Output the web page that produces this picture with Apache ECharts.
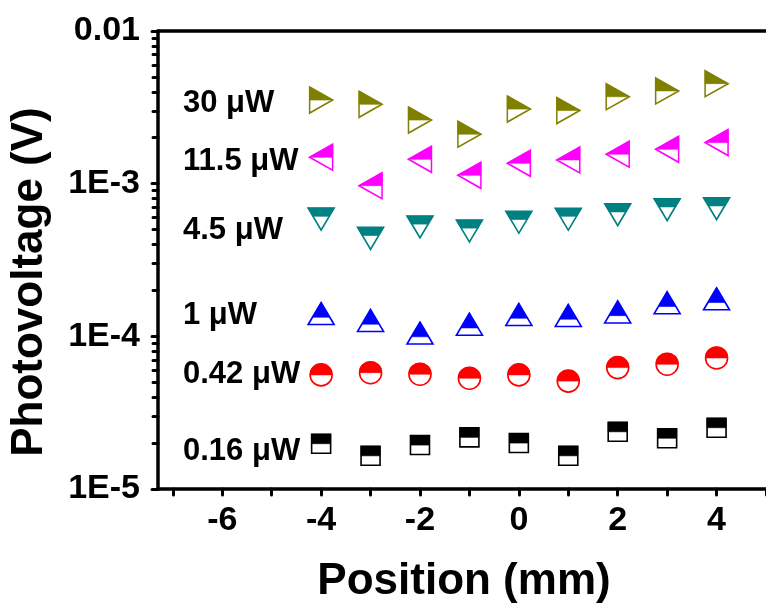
<!DOCTYPE html>
<html>
<head>
<meta charset="utf-8">
<script src="https://cdn.jsdelivr.net/npm/echarts@6/dist/echarts.min.js"></script>
<style>html,body{margin:0;padding:0;background:#fff}#c{width:766px;height:610px}</style>
</head>
<body>
<div id="c"></div>
<script>
// ---- data ----
const positions = [-4, -3, -2, -1, 0, 1, 2, 3, 4];
const p30   = [3.53e-3, 3.31e-3, 2.61e-3, 2.11e-3, 3.08e-3, 3.01e-3, 3.71e-3, 4.05e-3, 4.52e-3];
const p11_5 = [1.49e-3, 9.7e-4, 1.445e-3, 1.135e-3, 1.36e-3, 1.43e-3, 1.56e-3, 1.68e-3, 1.86e-3];
const p4_5  = [5.87e-4, 4.39e-4, 5.21e-4, 4.90e-4, 5.59e-4, 5.85e-4, 6.27e-4, 6.76e-4, 6.86e-4];
const p1    = [1.41e-4, 1.27e-4, 1.05e-4, 1.20e-4, 1.39e-4, 1.37e-4, 1.445e-4, 1.66e-4, 1.76e-4];
const p0_42 = [5.59e-5, 5.78e-5, 5.65e-5, 5.32e-5, 5.59e-5, 5.09e-5, 6.24e-5, 6.57e-5, 7.22e-5];
const p0_16 = [1.98e-5, 1.65e-5, 1.94e-5, 2.18e-5, 2.00e-5, 1.65e-5, 2.37e-5, 2.15e-5, 2.52e-5];
const seriesNames = ['30 \u03bcW', '11.5 \u03bcW', '4.5 \u03bcW', '1 \u03bcW', '0.42 \u03bcW', '0.16 \u03bcW'];
const xMajorTicks = [-6, -4, -2, 0, 2, 4];
const xAllTicks = [-7, -6, -5, -4, -3, -2, -1, 0, 1, 2, 3, 4, 5];
const yTickValues = [1e-5, 1e-4, 1e-3, 1e-2];
const yTickLabels = ['1E-5', '1E-4', '1E-3', '0.01'];

// ---- styles ----
const FONT = '"Liberation Sans", Arial, sans-serif';
const shapes = {
  right:  {full: {s: 'path://M0,0L24,13L0,26Z', z: [23, 26]}, half: {s: 'path://M0,0L24,13L0,13Z', z: [23, 13], o: [0, -6.5]}},
  left:   {full: {s: 'path://M24,0L0,13L24,26Z', z: [23, 26]}, half: {s: 'path://M24,0L0,13L24,13Z', z: [23, 13], o: [0, -6.5]}},
  down:   {full: {s: 'path://M0,0L26,0L13,22Z', z: [26, 22]}, half: {s: 'path://M0,0L26,0L21,8.4L5,8.4Z', z: [26, 8.4], o: [0, -6.8]}},
  up:     {full: {s: 'path://M13,0L26,22L0,22Z', z: [26, 22]}, half: {s: 'path://M8.7,0L17.4,14.7L0,14.7Z', z: [17.4, 14.7], o: [0, -3.65]}},
  circle: {full: {s: 'circle', z: [22, 22]}, half: {s: 'path://M0,10A10,10,0,0,1,20,10Z', z: [22, 11], o: [0, -5.5]}},
  square: {full: {s: 'rect', z: [19, 19]}, half: {s: 'rect', z: [19, 9.5], o: [0, -4.75]}}
};
const styleList = [
  {color: '#808000', shape: 'right'},
  {color: '#FF00FF', shape: 'left'},
  {color: '#008080', shape: 'down'},
  {color: '#0000FF', shape: 'up'},
  {color: '#FF0000', shape: 'circle'},
  {color: '#000000', shape: 'square'}
];
const valueSets = [p30, p11_5, p4_5, p1, p0_42, p0_16];
const labelY = [106, 164, 233, 318, 377, 454];

const series = [];
valueSets.forEach((vals, i) => {
  const st = styleList[i];
  const sh = shapes[st.shape];
  const data = positions.map((x, k) => [x, vals[k]]);
  series.push({
    type: 'scatter', name: seriesNames[i], data: data, silent: true, z: 3,
    symbol: sh.full.s, symbolSize: sh.full.z,
    itemStyle: {color: '#fff', borderColor: st.color, borderWidth: 1.6, opacity: 1}
  });
  series.push({
    type: 'scatter', name: seriesNames[i] + ' fill', data: data, silent: true, z: 4,
    symbol: sh.half.s, symbolSize: sh.half.z, symbolOffset: sh.half.o,
    itemStyle: {color: st.color, borderColor: st.color, borderWidth: 0.6, opacity: 1}
  });
});

// log minor ticks
const yMinor = [];
for (let e = -5; e < -2; e++) {
  for (let m = 2; m <= 9; m++) yMinor.push(m * Math.pow(10, e));
}

const chart = echarts.init(document.getElementById('c'), null, {renderer: 'canvas'});
const axisLineStyle = {color: '#000', width: 3.5};
chart.setOption({
  animation: false,
  backgroundColor: '#fff',
  grid: {left: 158, top: 31, right: -8, bottom: 121, containLabel: false},
  xAxis: [{
    type: 'value', min: -7.3, max: 5, position: 'bottom',
    axisLine: {show: true, onZero: false, lineStyle: axisLineStyle},
    axisTick: {show: true, inside: false, length: 6, customValues: xAllTicks, lineStyle: {color: '#000', width: 3, cap: 'round'}},
    axisLabel: {show: true, customValues: xMajorTicks, margin: 15, fontSize: 34, fontWeight: 'bold', color: '#000', fontFamily: FONT},
    splitLine: {show: false}
  }, {
    type: 'value', min: -7.3, max: 5, position: 'top',
    axisLine: {show: true, onZero: false, lineStyle: axisLineStyle},
    axisTick: {show: false}, axisLabel: {show: false}, splitLine: {show: false}
  }],
  yAxis: [{
    type: 'log', logBase: 10, min: 1e-5, max: 1e-2, position: 'left',
    axisLine: {show: true, onZero: false, lineStyle: axisLineStyle},
    axisTick: {show: true, length: 6, customValues: yTickValues, lineStyle: {color: '#000', width: 3, cap: 'round'}},
    axisLabel: {show: true, customValues: yTickValues, margin: 18, fontSize: 34, fontWeight: 'bold', color: '#000', fontFamily: FONT,
      formatter: function (v) {
        const idx = yTickValues.findIndex(t => Math.abs(Math.log10(t) - Math.log10(v)) < 1e-6);
        return idx >= 0 ? yTickLabels[idx] : '';
      }},
    splitLine: {show: false}, minorTick: {show: false}
  }, {
    type: 'log', logBase: 10, min: 1e-5, max: 1e-2, position: 'left', offset: 0,
    axisLine: {show: false, onZero: false},
    axisTick: {show: true, length: 5, customValues: yMinor, lineStyle: {color: '#000', width: 3, cap: 'round'}},
    axisLabel: {show: false}, splitLine: {show: false}
  }],
  graphic: [
    ...seriesNames.map((n, i) => ({
      type: 'text', left: 183, top: labelY[i] - 18, silent: true,
      style: {text: n, font: 'bold 31px ' + FONT, fill: '#000'}
    })),
    {
      type: 'text', x: 30, y: 282, rotation: Math.PI / 2, silent: true,
      style: {text: 'Photovoltage (V)', font: 'bold 44px ' + FONT, fill: '#000', align: 'center', verticalAlign: 'middle'}
    },
    {
      type: 'text', x: 464, y: 582, silent: true,
      style: {text: 'Position (mm)', font: 'bold 44px ' + FONT, fill: '#000', align: 'center', verticalAlign: 'middle'}
    }
  ],
  series: series
});
</script>
</body>
</html>
